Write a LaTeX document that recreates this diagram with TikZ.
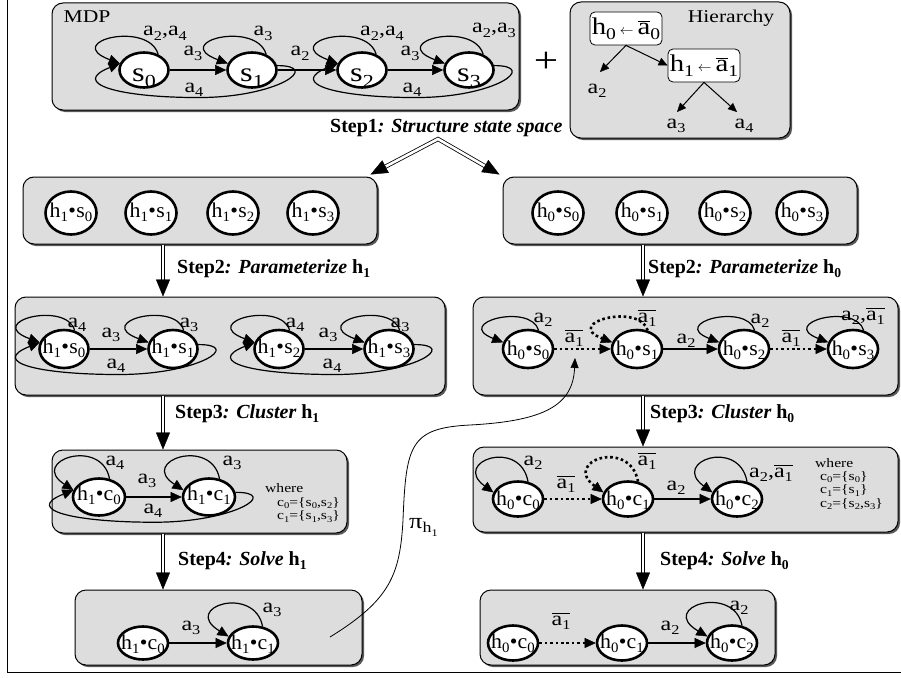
\documentclass[tikz,border=0pt]{standalone}
\usepackage{fontspec}
\setmainfont{Liberation Serif}[FakeStretch=1.2]
\newfontfamily\stepfont{Liberation Serif}
\newfontfamily\nodefont{Liberation Serif}[FakeStretch=1.04]
\usetikzlibrary{arrows.meta,shapes.geometric,shadows,calc}
\definecolor{boxgray}{RGB}{221,221,221}
\newcommand\fsz[1]{\fontsize{#1}{#1}\selectfont}
\newcommand\lo[1]{\raisebox{-0.22em}{\scalebox{0.68}{#1}}}
\newcommand\ob[1]{\vbox{\hrule height 1.1pt\kern1.6pt\hbox{#1}}}
\newcommand\dn[2]{\raisebox{-#1}[0pt][0pt]{\makebox[0pt]{#2}}}
\newcommand\hx[3]{h\lo{#1}\kern0.3pt\textbullet\kern0.3pt#2\lo{#3}}
\newcommand\lp[4][ed]{\draw[#1] (#2.60) .. controls +(-8,-#3) and +(-#4,{-0.7*#3}) .. (#2.165);}
\newcommand\lpm[1]{\draw[ed] (#1.48) .. controls +(-10,-34) and +(-58,-22) .. (#1.165);}
\newcommand\bk[3]{\draw[ed] (#1.10) .. controls +(45,0) and +(80,0) .. ($(#1.10)!.5!(#2.165)+(0,#3)$) .. controls +(-80,0) and +(-50,20) .. (#2.165);}
\tikzset{
 box/.style={draw, line width=1pt, rounded corners=11pt, fill=boxgray, inner sep=0pt,
   drop shadow={shadow xshift=2pt, shadow yshift=-2pt, fill=black!65, opacity=1}},
 st/.style={ellipse, draw, line width=2.6pt, fill=white, inner sep=0pt},
 mst/.style={st, minimum width=49pt, minimum height=35pt, font=\fsz{27}},
 hst/.style={st, font=\nodefont\fsz{21}},
 ed/.style={line width=1.2pt, -{Triangle[length=11pt,width=10pt,line width=0.4pt]}},
 ded/.style={ed, line width=2.6pt, dash pattern=on 2.6pt off 2.8pt},
 lab/.style={inner sep=0pt, anchor=base, font=\fsz{20}},
 small/.style={inner sep=0pt, anchor=base west, font=\fsz{13}},
 stext/.style={inner sep=0pt, anchor=base west, font=\stepfont\fsz{20}},
 dbl/.style={double=white, double distance=2.6pt, line width=0.8pt, -{Triangle[length=17pt,width=14pt,line width=0.4pt]}},
 hbx/.style={draw, line width=0.8pt, fill=white, rounded corners=5pt, minimum width=72pt, minimum height=33pt, inner sep=0pt, font=\fsz{24}},
 harr/.style={line width=1pt, -{Triangle[length=9pt,width=8pt,line width=0.4pt]}},
 piarr/.style={line width=0.8pt, -{Triangle[length=10pt,width=8pt,line width=0.4pt]}},
}
\begin{document}
\begin{tikzpicture}[x=1pt,y=-1pt]
\useasboundingbox (0,0) rectangle (901,677);
\draw[line width=1pt] (7,-1) -- (7,672) -- (902,672);
% boxes
\node[box, minimum width=467pt, minimum height=107pt] (MDPb) at (285.5,56.5) {};
\node[box, minimum width=220pt, minimum height=136pt] (HIb) at (680,70) {};
\node[box, minimum width=354pt, minimum height=67pt] (L2) at (200,210.5) {};
\node[box, minimum width=354pt, minimum height=67pt] (R2) at (680,210.5) {};
\node[box, minimum width=430pt, minimum height=98pt] (L3) at (230,346) {};
\node[box, minimum width=425pt, minimum height=98pt] (R3) at (685.5,346) {};
\node[box, minimum width=295pt, minimum height=83pt] (L4) at (199.5,491.5) {};
\node[box, minimum width=425pt, minimum height=85pt] (R4) at (685.5,489.5) {};
\node[box, minimum width=287pt, minimum height=75pt] (L5) at (218.5,627.5) {};
\node[box, minimum width=295pt, minimum height=75pt] (R5) at (627.5,627.5) {};
% MDP
\node[inner sep=0pt, anchor=base, font=\fsz{18}] (tmdp) at (87,23) {MDP};
\node[mst] (s0) at (144,70) {\dn{12pt}{s\lo{0}}};
\node[mst] (s1) at (252,70) {\dn{12pt}{s\lo{1}}};
\node[mst] (s2) at (362,70) {\dn{12pt}{s\lo{2}}};
\node[mst] (s3) at (469,70) {\dn{12pt}{s\lo{3}}};
\draw[ed] (s0) -- (s1);
\draw[ed] (s1) -- (s2);
\draw[ed] (s2) -- (s3);
\lpm{s0}\lpm{s1}\lpm{s2}\lpm{s3}
\bk{s1}{s0}{33}\bk{s3}{s2}{33}
\node[lab] (ls0) at (165,36) {a\lo{2},a\lo{4}};
\node[lab] (le01) at (193,56) {a\lo{3}};
\node[lab] (ls1) at (263,36) {a\lo{3}};
\node[lab] (lb10) at (194,92) {a\lo{4}};
\node[lab] (le12) at (300,56) {a\lo{2}};
\node[lab] (ls2) at (382,36) {a\lo{2},a\lo{4}};
\node[lab] (le23) at (410,56) {a\lo{3}};
\node[lab] (lb32) at (412,92) {a\lo{4}};
\node[lab] (ls3) at (494,33) {a\lo{2},a\lo{3}};
\node[inner sep=0pt, font=\fsz{36}] (plus) at (546,62) {+};
% Hierarchy
\node[inner sep=0pt, anchor=base, font=\fsz{18}] (thier) at (731,23) {Hierarchy};
\node[hbx] (h0) at (626,28.5) {\dn{6pt}{h\lo{0}\,\scalebox{0.55}{$\leftarrow$}\,\ob{a}\lo{0}}};
\node[hbx] (h1) at (704,65.5) {\dn{6pt}{h\lo{1}\,\scalebox{0.55}{$\leftarrow$}\,\ob{a}\lo{1}}};
\coordinate (ta2) at (600,72);
\coordinate (ta3) at (677,112);
\coordinate (ta4) at (737,112);
\draw[harr] (h0.south) -- (ta2);
\draw[harr] (h0.south) -- (h1.west);
\draw[harr] (h1.south) -- (ta3);
\draw[harr] (h1.south) -- (ta4);
\node[lab] (la2) at (597,93) {a\lo{2}};
\node[lab] (la3) at (676,128) {a\lo{3}};
\node[lab] (la4) at (744,128) {a\lo{4}};
% Step1
\node[stext] (st1) at (330,132) {{\bfseries Step1\itshape: Structure state space}};
\coordinate (apex) at (438,139);
\draw[dbl, {Triangle[length=17pt,width=14pt,line width=0.4pt]}-{Triangle[length=17pt,width=14pt,line width=0.4pt]}, line join=miter]
  ($(L2.north east)+(-7,-2)$) -- (apex) -- ($(R2.north west)+(-3,-2)$);
% Row 2
\foreach \i/\x in {0/71,1/151,2/233,3/313}
  \node[hst, minimum width=51pt, minimum height=43pt] (p\i) at (\x,213) {\dn{4pt}{\hx{1}{s}{\i}}};
\foreach \i/\x in {0/558,1/642,2/725,3/802}
  \node[hst, minimum width=51pt, minimum height=43pt] (q\i) at (\x,213) {\dn{4pt}{\hx{0}{s}{\i}}};
% Step2
\coordinate (xl) at (163,0);
\coordinate (xr) at (643,0);
\draw[dbl] (xl |- L2.south) -- (xl |- L3.north);
\draw[dbl] (xr |- R2.south) -- (xr |- R3.north);
\node[stext] (st2l) at (177,273) {{\bfseries Step2\itshape: Parameterize} {\bfseries h\lo{1}}};
\node[stext] (st2r) at (648,273) {{\bfseries Step2\itshape: Parameterize} {\bfseries h\lo{0}}};
% Row 3 left
\foreach \i/\x in {0/64,1/173,2/279,3/389}
  \node[hst, minimum width=49pt, minimum height=38pt] (n\i) at (\x,349) {\dn{4pt}{\hx{1}{s}{\i}}};
\draw[ed] (n0) -- (n1);
\draw[ed] (n2) -- (n3);
\lp{n0}{30}{56}\lp{n1}{30}{56}\lp{n2}{30}{56}\lp{n3}{30}{56}
\bk{n1}{n0}{31}\bk{n3}{n2}{31}
\node[lab] (ln0) at (77,327) {a\lo{4}};
\node[lab] (le0) at (111,337) {a\lo{3}};
\node[lab] (ln1) at (189,327) {a\lo{3}};
\node[lab] (lb0) at (116,368) {a\lo{4}};
\node[lab] (ln2) at (295,327) {a\lo{4}};
\node[lab] (le2) at (328,337) {a\lo{3}};
\node[lab] (ln3) at (400,327) {a\lo{3}};
\node[lab] (lb2) at (332,368) {a\lo{4}};
% Row 3 right
\foreach \i/\x in {0/528,1/637,2/744,3/853}
  \node[hst, minimum width=50pt, minimum height=38pt] (r\i) at (\x,349) {\dn{6pt}{\hx{0}{s}{\i}}};
\draw[ded] (r0) -- (r1);
\draw[ed] (r1) -- (r2);
\draw[ded] (r2) -- (r3);
\lp{r0}{28}{50}\lp[ded]{r1}{28}{50}\lp{r2}{28}{50}\lp{r3}{28}{50}
\node[lab] (lr0) at (543,322) {a\lo{2}};
\node[lab] (ler0) at (574,342) {\ob{a\lo{1}}};
\node[lab] (lr1) at (647,322) {\ob{a\lo{1}}};
\node[lab] (ler1) at (686,343) {a\lo{2}};
\node[lab] (lr2) at (760,323) {a\lo{2}};
\node[lab] (ler2) at (791,342) {\ob{a\lo{1}}};
\node[lab] (lr3) at (863,320) {a\lo{2},\ob{a\lo{1}}};
% Step3
\draw[dbl] (xl |- L3.south) -- (xl |- L4.north);
\draw[dbl] (xr |- R3.south) -- (xr |- R4.north);
\node[stext] (st3l) at (175,418) {{\bfseries Step3\itshape: Cluster} {\bfseries h\lo{1}}};
\node[stext] (st3r) at (650,418) {{\bfseries Step3\itshape: Cluster} {\bfseries h\lo{0}}};
% Row 4 left
\node[hst, minimum width=52pt, minimum height=37pt] (u0) at (99,497) {\dn{3pt}{\hx{1}{c}{0}}};
\node[hst, minimum width=52pt, minimum height=37pt] (u1) at (209,497) {\dn{3pt}{\hx{1}{c}{1}}};
\draw[ed] (u0) -- (u1);
\lp{u0}{42}{45}\lp{u1}{42}{45}
\bk{u1}{u0}{31}
\node[lab] (lu0) at (115,465) {a\lo{4}};
\node[lab] (leu) at (147,483) {a\lo{3}};
\node[lab] (lu1) at (232,465) {a\lo{3}};
\node[lab] (lbu) at (153,513) {a\lo{4}};
\node[small] (wl) at (265,492) {where};
\node[small] (wl0) at (277,506) {c\lo{0}=\{s\lo{0},s\lo{2}\}};
\node[small] (wl1) at (277,519.5) {c\lo{1}=\{s\lo{1},s\lo{3}\}};
% Row 4 right
\node[hst, minimum width=50pt, minimum height=35pt] (v0) at (518,499) {\dn{6pt}{\hx{0}{c}{0}}};
\node[hst, minimum width=50pt, minimum height=35pt] (v1) at (628,499) {\dn{6pt}{\hx{0}{c}{1}}};
\node[hst, minimum width=50pt, minimum height=35pt] (v2) at (737,499) {\dn{6pt}{\hx{0}{c}{2}}};
\draw[ded] (v0) -- (v1);
\draw[ed] (v1) -- (v2);
\lp{v0}{44}{42}\lp[ded]{v1}{44}{42}\lp{v2}{44}{42}
\node[lab] (lv0) at (533,465) {a\lo{2}};
\node[lab] (lev0) at (566,488) {\ob{a\lo{1}}};
\node[lab] (lv1) at (647,465) {\ob{a\lo{1}}};
\node[lab] (lev1) at (676,490) {a\lo{2}};
\node[lab] (lv2) at (771,477) {a\lo{2},\ob{a\lo{1}}};
\node[small] (wr) at (815,467) {where};
\node[small] (wr0) at (820,480) {c\lo{0}=\{s\lo{0}\}};
\node[small] (wr1) at (820,493.5) {c\lo{1}=\{s\lo{1}\}};
\node[small] (wr2) at (820,507) {c\lo{2}=\{s\lo{2},s\lo{3}\}};
% Step4
\draw[dbl] (xl |- L4.south) -- (xl |- L5.north);
\draw[dbl] (xr |- R4.south) -- (xr |- R5.north);
\node[stext] (st4l) at (178,565) {{\bfseries Step4\itshape: Solve} {\bfseries h\lo{1}}};
\node[stext] (st4r) at (660,565) {{\bfseries Step4\itshape: Solve} {\bfseries h\lo{0}}};
% Row 5 left
\node[hst, minimum width=50pt, minimum height=33pt] (w0) at (143,643) {\dn{6pt}{\hx{1}{c}{0}}};
\node[hst, minimum width=50pt, minimum height=33pt] (w1) at (253,643) {\dn{6pt}{\hx{1}{c}{1}}};
\draw[ed] (w0) -- (w1);
\lp{w1}{42}{48}
\node[lab] (lew) at (191,630) {a\lo{3}};
\node[lab] (lw1) at (272,612) {a\lo{3}};
% Row 5 right
\node[hst, minimum width=50pt, minimum height=35pt] (x0) at (513,643) {\dn{5pt}{\hx{0}{c}{0}}};
\node[hst, minimum width=50pt, minimum height=35pt] (x1) at (622,643) {\dn{5pt}{\hx{0}{c}{1}}};
\node[hst, minimum width=50pt, minimum height=35pt] (x2) at (732,643) {\dn{5pt}{\hx{0}{c}{2}}};
\draw[ded] (x0) -- (x1);
\draw[ed] (x1) -- (x2);
\lp{x2}{42}{50}
\node[lab] (lex0) at (561,625) {\ob{a\lo{1}}};
\node[lab] (lex1) at (670,630) {a\lo{2}};
\node[lab] (lx2) at (739,610) {a\lo{2}};
% pi curve
\coordinate (pistart) at (330,637);
\coordinate (pitip) at (575,358);
\draw[piarr] (pistart) .. controls (390,600) and (400,575) .. (403,520)
  .. controls (406,445) and (410,428) .. (470,425)
  .. controls (545,421) and (573,405) .. (pitip);
\node[inner sep=0pt, anchor=base west, font=\fsz{22}] (pil) at (409,528) {π\lo{h\lo{1}}};
\end{tikzpicture}
\end{document}
